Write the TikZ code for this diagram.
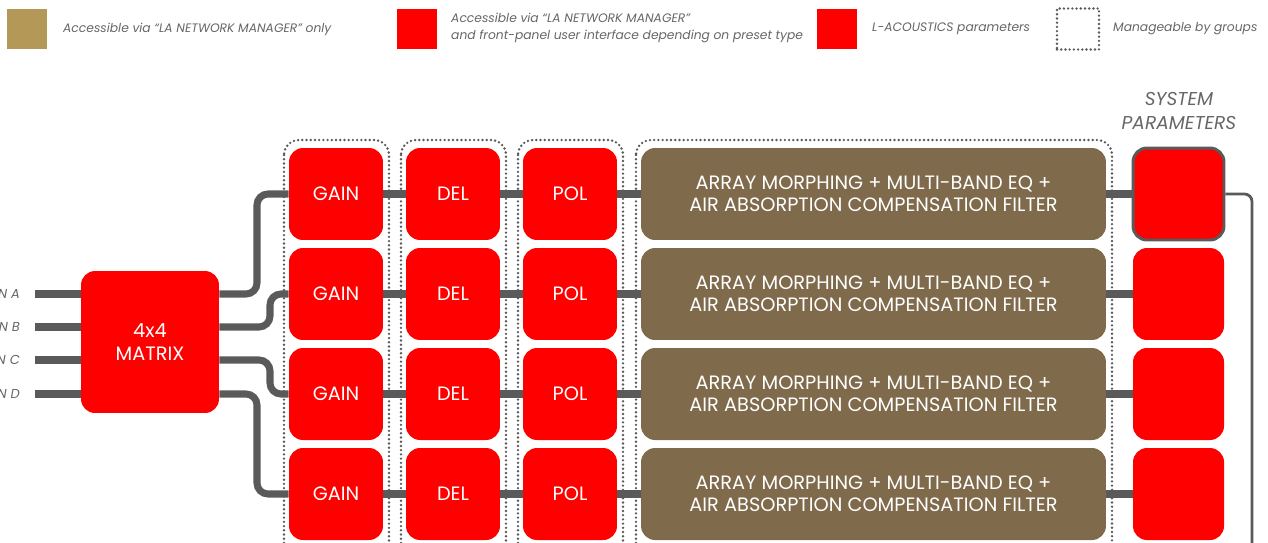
\documentclass[tikz,border=0pt]{standalone}
\usepackage{fontspec}
\setmainfont{Poppins}
\usetikzlibrary{positioning}
\definecolor{laRed}{HTML}{FF0000}
\definecolor{laGold}{HTML}{B39857}
\definecolor{laBrown}{HTML}{7F6A4C}
\definecolor{laWire}{HTML}{5A5A5A}
\definecolor{laText}{HTML}{666666}
\begin{document}
\begin{tikzpicture}[x=0.02cm, y=-0.02cm,
    block/.style ={rectangle, rounded corners=0.28cm, fill=laRed, text=white, align=center,
                   inner sep=0pt, minimum width=1.88cm, minimum height=1.84cm, font=\fontsize{11}{12.6}\selectfont},
    filterbox/.style ={block, fill=laBrown, minimum width=9.3cm},
    sysbox/.style ={block, minimum width=1.82cm},
    wire/.style ={draw=laWire, line width=4pt},
    thinwire/.style ={draw=laWire, line width=1.6pt, rounded corners=0.15cm},
    group/.style ={draw=laWire, line width=1.5pt, line cap=round, dash pattern=on 0pt off 2.4pt, rounded corners=0.3cm},
    legendtext/.style ={text=laText, anchor=west, align=left, font=\itshape\fontsize{7}{9.6}\selectfont},
    inlabel/.style ={text=laText, anchor=east, font=\itshape\fontsize{7.4}{9}\selectfont}]
   \useasboundingbox (0,0) rectangle (1268,542);
   % legend
   \node[fill=laGold, minimum size=0.8cm, inner sep=0pt] (keyA) at (27,29) {};
   \node[legendtext] (keyAtext) at (57,29) {Accessible via “LA NETWORK MANAGER” only};
   \node[fill=laRed, minimum size=0.8cm, inner sep=0pt] (keyB) at (417,29) {};
   \node[legendtext] (keyBtext) at (445,28) {Accessible via “LA NETWORK MANAGER”\\and front-panel user interface depending on preset type};
   \node[fill=laRed, minimum size=0.8cm, inner sep=0pt] (keyC) at (837,29) {};
   \node[legendtext] (keyCtext) at (866,29) {L-ACOUSTICS parameters};
   \node[group, rounded corners=0pt, minimum width=0.84cm, minimum height=0.82cm, inner sep=0pt] (keyD) at (1078,29) {};
   \node[legendtext] (keyDtext) at (1107,29) {Manageable by groups};
   % groups
   \draw[group] (284,140) rectangle (389,580);
   \draw[group] (401,140) rectangle (506,580);
   \draw[group] (518,140) rectangle (623,580);
   \draw[group] (636,140) rectangle (1112,580);
   % inputs and matrix
   \node[block, minimum width=2.76cm, minimum height=2.84cm, font=\fontsize{11}{13}\selectfont] (mx) at (150,342) {4x4\\MATRIX};
   \coordinate (inA) at (35,294);
   \coordinate (inB) at (35,327);
   \coordinate (inC) at (35,360);
   \coordinate (inD) at (35,394);
   \node[inlabel] (labA) at (26,294) {IN A};
   \node[inlabel] (labB) at (26,327) {IN B};
   \node[inlabel] (labC) at (26,360) {IN C};
   \node[inlabel] (labD) at (26,394) {IN D};
   \foreach \i in {A,B,C,D}
     \draw[wire] (in\i) -- (mx.west |- in\i);
   % channels
   \foreach \n/\y in {1/194,2/294,3/394,4/494} {
     \node[block] (gain\n) at (336,\y) {GAIN};
     \node[block] (del\n) at (453,\y) {DEL};
     \node[block] (pol\n) at (570,\y) {POL};
     \node[filterbox] (flt\n) at (873.5,\y) {ARRAY MORPHING + MULTI-BAND EQ +\\AIR ABSORPTION COMPENSATION FILTER};
     \draw[wire] (gain\n) -- (del\n);
     \draw[wire] (del\n) -- (pol\n);
     \draw[wire] (pol\n) -- (flt\n);
   }
   \node[sysbox, draw=laWire, line width=1.7pt] (sys1) at (1178.5,194) {};
   \node[sysbox] (sys2) at (1178.5,294) {};
   \node[sysbox] (sys3) at (1178.5,394) {};
   \node[sysbox] (sys4) at (1178.5,494) {};
   \foreach \n in {1,2,3,4}
     \draw[wire] (flt\n) -- (sys\n);
   \node[text=laText, align=center, font=\itshape\fontsize{10.6}{13.6}\selectfont] (systitle) at (1179,111) {SYSTEM\\PARAMETERS};
   % matrix outputs
   \draw[wire, rounded corners=0.22cm] (mx.east |- inA) -- (257,294) |- (gain1);
   \draw[wire, rounded corners=0.22cm] (mx.east |- inB) -- (270,327) |- (gain2);
   \draw[wire, rounded corners=0.22cm] (mx.east |- inC) -- (270,360) |- (gain3);
   \draw[wire, rounded corners=0.22cm] (mx.east |- inD) -- (257,394) |- (gain4);
   \coordinate (sysout) at (1252,580);
   \draw[thinwire] (sys1.east) -| (sysout);
\end{tikzpicture}
\end{document}
